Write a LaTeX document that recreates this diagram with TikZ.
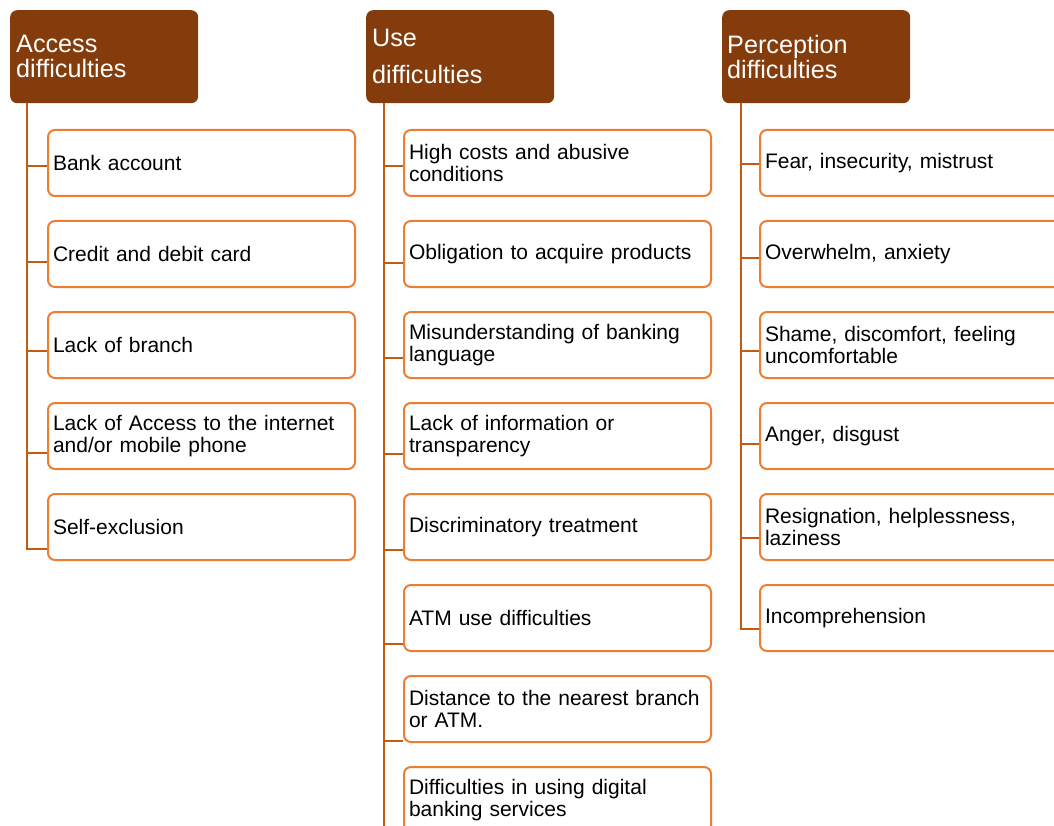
\documentclass[tikz,border=0pt]{standalone}
\usepackage{fontspec}
\setmainfont{Liberation Sans}
\usepackage{tikz}
\usetikzlibrary{positioning}

\definecolor{headbrown}{HTML}{843C0C}
\definecolor{boxorange}{HTML}{ED7D31}
\definecolor{linkbrown}{HTML}{C55A11}

\tikzset{
  head/.style={anchor=north west, fill=headbrown, rounded corners=7pt,
    minimum width=188pt, minimum height=93pt, text width=176pt, inner xsep=6pt,
    align=left, text=white, font=\fontsize{25.2}{25}\selectfont},
  item/.style={anchor=north west, draw=boxorange, line width=2pt, fill=white,
    rounded corners=7pt, minimum width=307pt, minimum height=66pt,
    text width=297pt, inner xsep=5pt, align=left,
    font=\fontsize{21}{22.5}\selectfont},
  link/.style={draw=linkbrown, line width=2pt},
}

\begin{document}
\begin{tikzpicture}[x=1pt, y=-1pt]
    \useasboundingbox (0,0) rectangle (1054,826);
    \clip (0,0) rectangle (1054,826);

    % headers
    \node[head] (acc) at (10, 10) {Access\\difficulties};
    \node[head, font=\fontsize{25.2}{37}\selectfont] (use) at (366, 10) {Use\\difficulties};
    \node[head, inner xsep=5pt, text width=178pt] (per) at (722, 10) {Perception\\difficulties};

    \coordinate (aTop) at ([xshift=17pt]acc.south west);
    \coordinate (uTop) at ([xshift=18pt]use.south west);
    \coordinate (pTop) at ([xshift=19pt]per.south west);

    % access
    \node[item] (a1) at (47, 129) {Bank account};
    \node[item] (a2) at (47, 220) {Credit and debit card};
    \node[item] (a3) at (47, 311) {Lack of branch};
    \node[item] (a4) at (47, 402) {Lack of Access to the internet\\and/or mobile phone};
    \node[item] (a5) at (47, 493) {Self-exclusion};

    % use
    \node[item] (u1) at (403, 129) {High costs and abusive\\conditions};
    \node[item] (u2) at (403, 220) {Obligation to acquire products};
    \node[item] (u3) at (403, 311) {Misunderstanding of banking\\language};
    \node[item] (u4) at (403, 402) {Lack of information or\\transparency};
    \node[item] (u5) at (403, 493) {Discriminatory treatment};
    \node[item] (u6) at (403, 584) {ATM use difficulties};
    \node[item] (u7) at (403, 675) {Distance to the nearest branch\\or ATM.};
    \node[item] (u8) at (403, 766) {Difficulties in using digital\\banking services};

    % perception
    \node[item, minimum width=330pt, text width=320pt] (p1) at (759, 129) {Fear, insecurity, mistrust};
    \node[item, minimum width=330pt, text width=320pt] (p2) at (759, 220) {Overwhelm, anxiety};
    \node[item, minimum width=330pt, text width=320pt] (p3) at (759, 311) {Shame, discomfort, feeling\\uncomfortable};
    \node[item, minimum width=330pt, text width=320pt] (p4) at (759, 402) {Anger, disgust};
    \node[item, minimum width=330pt, text width=320pt] (p5) at (759, 493) {Resignation, helplessness,\\laziness};
    \node[item, minimum width=330pt, text width=320pt] (p6) at (759, 584) {Incomprehension};

    % connectors
    \draw[link] (aTop) |- ([yshift=-3pt]a1.west);
    \draw[link] (aTop) |- ([yshift=-8pt]a2.west);
    \draw[link] (aTop) |- ([yshift=-6pt]a3.west);
    \draw[link] (aTop) |- ([yshift=-17pt]a4.west);
    \draw[link] (aTop) |- ([yshift=-22pt]a5.west);

    \draw[link] (uTop) |- ([yshift=-3pt]u1.west);
    \draw[link] (uTop) |- ([yshift=-9pt]u2.west);
    \draw[link] (uTop) |- ([yshift=-13pt]u3.west);
    \draw[link] (uTop) |- ([yshift=-18pt]u4.west);
    \draw[link] (uTop) |- ([yshift=-23pt]u5.west);
    \draw[link] (uTop) |- ([yshift=-26pt]u6.west);
    \draw[link] (uTop) |- ([yshift=-32pt]u7.west);
    \draw[link] (uTop) |- ([yshift=-37pt]u8.west);

    \draw[link] (pTop) |- ([yshift=-1pt]p1.west);
    \draw[link] (pTop) |- ([yshift=-4pt]p2.west);
    \draw[link] (pTop) |- ([yshift=-6pt]p3.west);
    \draw[link] (pTop) |- ([yshift=-8pt]p4.west);
    \draw[link] (pTop) |- ([yshift=-11pt]p5.west);
    \draw[link] (pTop) |- ([yshift=-11pt]p6.west);
\end{tikzpicture}
\end{document}
